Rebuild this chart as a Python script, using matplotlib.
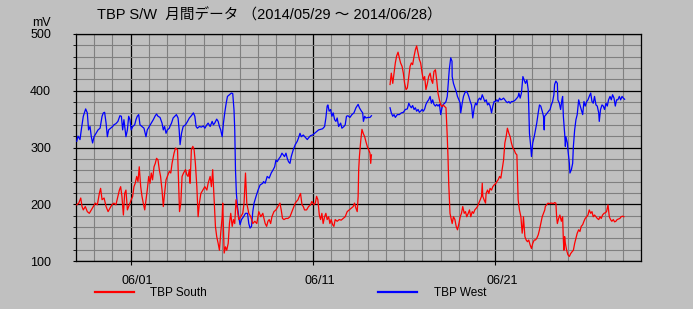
import numpy as np
import pandas as pd
import matplotlib
matplotlib.use("Agg")
import matplotlib.pyplot as plt
import matplotlib.dates as mdates
import matplotlib.transforms as mtransforms
from matplotlib.ticker import MultipleLocator

plt.rcParams['font.family'] = ['Liberation Sans', 'Noto Sans CJK JP']

start = pd.Timestamp("2014-05-29")

# time in days since 2014/05/29 00:00, values in mV (nan = no data)
south_days = [0.04, 0.15, 0.26, 0.33, 0.40, 0.51, 0.62, 0.73, 0.84, 0.95, 1.06, 1.17, 1.28, 1.35, 1.43,
              1.54, 1.65, 1.76, 1.86, 1.97, 2.08, 2.19, 2.30, 2.38, 2.45, 2.52, 2.60, 2.67, 2.74, 2.82,
              2.89, 2.96, 3.03, 3.11, 3.18, 3.25, 3.33, 3.40, 3.47, 3.55, 3.62, 3.69, 3.77, 3.84, 3.91,
              3.99, 4.06, 4.13, 4.20, 4.28, 4.35, 4.42, 4.50, 4.57, 4.64, 4.72, 4.79, 4.86, 4.94, 5.01,
              5.12, 5.20, 5.27, 5.38, 5.46, 5.57, 5.64, 5.68, 5.75, 5.82, 5.90, 6.01, 6.08, 6.15, 6.22,
              6.26, 6.33, 6.41, 6.48, 6.55, 6.63, 6.70, 6.77, 6.85, 6.96, 7.07, 7.18, 7.25, 7.36, 7.43,
              7.50, 7.58, 7.65, 7.72, 7.80, 7.87, 7.94, 8.02, 8.05, 8.13, 8.20, 8.27, 8.35, 8.42, 8.49,
              8.57, 8.64, 8.71, 8.78, 8.86, 8.93, 9.04, 9.15, 9.22, 9.30, 9.37, 9.48, 9.59, 9.70, 9.81,
              9.92, 10.03, 10.14, 10.25, 10.29, 10.38, 10.46, 10.53, 10.60, 10.68, 10.75, 10.86, 10.97,
              11.08, 11.19, 11.26, 11.33, 11.41, 11.52, 11.63, 11.74, 11.81, 11.92, 12.03, 12.10, 12.18,
              12.25, 12.32, 12.40, 12.47, 12.54, 12.65, 12.76, 12.87, 12.94, 13.05, 13.13, 13.20, 13.27,
              13.35, 13.42, 13.49, 13.56, 13.64, 13.71, 13.78, 13.86, 13.93, 14.00, 14.08, 14.15, 14.22,
              14.33, 14.44, 14.55, 14.66, 14.77, 14.88, 14.99, 15.10, 15.21, 15.28, 15.36, 15.43, 15.48,
              15.51, 15.55, 15.62, 15.69, 15.77, 15.84, 15.91, 15.99, 16.06, 16.13, 16.17, 16.21, 16.70,
              17.23, 17.30, 17.38, 17.45, 17.52, 17.59, 17.67, 17.74, 17.81, 17.89, 17.96, 18.03, 18.11,
              18.18, 18.26, 18.33, 18.40, 18.47, 18.55, 18.62, 18.69, 18.77, 18.84, 18.91, 18.99, 19.06,
              19.13, 19.20, 19.28, 19.35, 19.43, 19.50, 19.57, 19.64, 19.72, 19.79, 19.86, 19.94, 20.01,
              20.08, 20.15, 20.23, 20.30, 20.37, 20.41, 20.45, 20.48, 20.52, 20.59, 20.64, 20.71, 20.79,
              20.86, 20.93, 21.01, 21.08, 21.15, 21.22, 21.30, 21.37, 21.44, 21.52, 21.59, 21.66, 21.74,
              21.81, 21.88, 21.96, 22.03, 22.10, 22.18, 22.25, 22.29, 22.32, 22.39, 22.47, 22.50, 22.58,
              22.65, 22.72, 22.80, 22.87, 22.94, 23.02, 23.09, 23.16, 23.24, 23.31, 23.38, 23.46, 23.53,
              23.60, 23.67, 23.75, 23.82, 23.89, 23.97, 24.04, 24.11, 24.19, 24.22, 24.26, 24.33, 24.41,
              24.44, 24.48, 24.52, 24.55, 24.63, 24.70, 24.77, 24.84, 24.92, 24.99, 25.06, 25.14, 25.21,
              25.28, 25.36, 25.43, 25.50, 25.58, 25.65, 25.72, 25.75, 25.82, 25.90, 25.97, 26.04, 26.12,
              26.19, 26.26, 26.33, 26.37, 26.41, 26.48, 26.55, 26.63, 26.70, 26.74, 26.77, 26.81, 26.85,
              26.92, 26.99, 27.07, 27.14, 27.21, 27.29, 27.36, 27.43, 27.50, 27.58, 27.65, 27.72, 27.80,
              27.87, 27.94, 28.02, 28.09, 28.16, 28.24, 28.31, 28.38, 28.45, 28.53, 28.60, 28.68, 28.75,
              28.82, 28.89, 28.97, 29.04, 29.11, 29.19, 29.26, 29.33, 29.40, 29.48, 29.55, 29.62, 29.69,
              29.77, 29.84, 29.91, 29.99, 30.06]
south_mv = [199, 202, 211, 196, 190, 196, 187, 184, 190, 196, 202, 199, 219, 228, 208,
            211, 196, 187, 193, 199, 202, 199, 214, 225, 231, 214, 181, 219, 225, 190,
            196, 202, 208, 214, 231, 237, 249, 240, 266, 231, 214, 202, 190, 208, 225,
            249, 237, 255, 243, 266, 272, 281, 278, 261, 249, 225, 196, 219, 243, 249,
            258, 255, 272, 290, 299, 296, 225, 187, 202, 249, 255, 261, 252, 249, 261,
            237, 296, 302, 296, 272, 231, 178, 202, 219, 225, 231, 225, 237, 249, 231,
            261, 208, 161, 143, 131, 119, 149, 178, 202, 114, 125, 119, 131, 166, 184,
            161, 173, 166, 208, 190, 173, 178, 184, 202, 255, 202, 184, 178, 166, 170,
            166, 187, 178, 184, 178, 166, 161, 170, 173, 166, 178, 187, 190,
            196, 202, 190, 175, 173, 175, 175, 178, 184, 193, 202, 205, 208,
            214, 219, 199, 196, 190, 190, 196, 199, 205, 199, 202, 214, 208,
            181, 173, 184, 166, 178, 184, 173, 178, 166, 173, 164, 161, 173,
            170, 173, 172, 175, 178, 187, 190, 193, 196, 202, 193, 187, 214,
            261, 284, 311, 332, 324, 319, 310, 301, 296, 290, 272, 287, np.nan,
            411, 431, 413, 431, 449, 461, 468, 458, 449, 443, 431, 413, 402,
            405, 425, 443, 449, 446, 461, 472, 479, 466, 455, 449, 431, 419,
            425, 402, 413, 425, 431, 419, 413, 434, 437, 419, 396, 384, 375,
            372, 375, 372, 370, 319, 284, 237, 214, 184, 173, 166, 178, 173,
            161, 155, 166, 178, 184, 196, 184, 187, 178, 184, 190, 178, 187,
            184, 190, 193, 196, 202, 208, 214, 237, 214, 208, 202, 219, 225,
            219, 228, 225, 231, 234, 236, 240, 243, 249, 246, 261, 278, 308,
            319, 334, 325, 319, 308, 299, 296, 290, 287, 255, 208, 190, 178,
            166, 149, 161, 178, 143, 137, 134, 137, 128, 122, 131, 137, 137,
            140, 146, 155, 166, 178, 184, 190, 196, 199, 202, 201, 202, 202,
            201, 203, 202, 178, 166, 175, 181, 170, 178, 137, 119, 143, 131,
            119, 111, 108, 113, 116, 119, 131, 140, 149, 155, 152, 161, 164,
            170, 175, 178, 181, 190, 184, 187, 178, 181, 178, 175, 173, 178,
            175, 181, 184, 185, 187, 199, 178, 173, 170, 173, 169, 170, 173,
            174, 175, 178, 179, 178]

west_days = [0.04, 0.11, 0.22, 0.29, 0.40, 0.53, 0.62, 0.69, 0.77, 0.84, 0.91, 0.99, 1.10, 1.21, 1.32,
             1.43, 1.50, 1.57, 1.65, 1.72, 1.79, 1.90, 2.01, 2.08, 2.19, 2.30, 2.41, 2.49, 2.56, 2.63,
             2.74, 2.82, 2.89, 2.96, 3.03, 3.11, 3.22, 3.29, 3.36, 3.44, 3.51, 3.62, 3.73, 3.84, 3.91,
             4.02, 4.13, 4.24, 4.35, 4.42, 4.50, 4.61, 4.72, 4.79, 4.86, 4.94, 5.01, 5.12, 5.15, 5.24,
             5.33, 5.42, 5.51, 5.60, 5.66, 5.71, 5.79, 5.88, 6.01, 6.12, 6.22, 6.33, 6.44, 6.52, 6.59,
             6.66, 6.77, 6.88, 6.99, 7.07, 7.18, 7.25, 7.36, 7.47, 7.54, 7.61, 7.72, 7.80, 7.87, 7.94,
             8.02, 8.09, 8.16, 8.24, 8.31, 8.42, 8.53, 8.60, 8.67, 8.71, 8.75, 8.80, 8.86, 8.93, 9.00,
             9.08, 9.19, 9.30, 9.41, 9.48, 9.55, 9.63, 9.70, 9.77, 9.88, 9.99, 10.10, 10.25, 10.29,
             10.38, 10.49, 10.60, 10.71, 10.82, 10.90, 10.97, 11.04, 11.15, 11.22, 11.30, 11.37, 11.44,
             11.52, 11.59, 11.66, 11.74, 11.81, 11.92, 12.03, 12.14, 12.21, 12.29, 12.36, 12.47, 12.58,
             12.69, 12.76, 12.87, 12.98, 13.09, 13.20, 13.31, 13.42, 13.53, 13.64, 13.71, 13.78, 13.82,
             13.89, 13.97, 14.04, 14.11, 14.19, 14.26, 14.33, 14.41, 14.52, 14.59, 14.70, 14.77, 14.84,
             14.92, 15.03, 15.14, 15.25, 15.36, 15.48, 15.55, 15.66, 15.73, 15.77, 15.84, 15.91, 16.02,
             16.13, 16.21, 16.70,
             17.23, 17.30, 17.38, 17.45, 17.52, 17.63, 17.74, 17.85, 17.96, 18.07, 18.18, 18.26, 18.33,
             18.40, 18.47, 18.55, 18.62, 18.69, 18.77, 18.84, 18.91, 18.99, 19.06, 19.13, 19.20, 19.28,
             19.35, 19.43, 19.50, 19.57, 19.64, 19.72, 19.79, 19.86, 19.94, 20.01, 20.08, 20.15, 20.23,
             20.30, 20.37, 20.41, 20.48, 20.56, 20.63, 20.64, 20.71, 20.79, 20.86, 20.93, 21.01, 21.08,
             21.11, 21.19, 21.26, 21.33, 21.41, 21.48, 21.55, 21.63, 21.70, 21.77, 21.85, 21.92, 21.99,
             22.07, 22.14, 22.21, 22.29, 22.36, 22.43, 22.51, 22.58, 22.65, 22.72, 22.80, 22.87, 22.94,
             23.02, 23.09, 23.16, 23.24, 23.31, 23.38, 23.46, 23.53, 23.60, 23.67, 23.75, 23.82, 23.89,
             23.97, 24.04, 24.11, 24.19, 24.26, 24.30, 24.37, 24.44, 24.52, 24.59, 24.66, 24.74, 24.81,
             24.84, 24.88, 24.95, 24.99, 25.06, 25.14, 25.21, 25.28, 25.36, 25.43, 25.50, 25.58, 25.65,
             25.69, 25.71, 25.79, 25.86, 25.93, 26.01, 26.08, 26.15, 26.22, 26.26, 26.33, 26.41, 26.44,
             26.52, 26.59, 26.66, 26.70, 26.74, 26.77, 26.81, 26.85, 26.88, 26.96, 26.99, 27.07, 27.10,
             27.18, 27.25, 27.29, 27.36, 27.43, 27.50, 27.58, 27.65, 27.72, 27.80, 27.87, 27.94, 28.02,
             28.09, 28.16, 28.24, 28.31, 28.38, 28.45, 28.53, 28.60, 28.68, 28.71, 28.78, 28.86, 28.93,
             29.00, 29.08, 29.15, 29.22, 29.30, 29.37, 29.44, 29.52, 29.59, 29.66, 29.73, 29.81, 29.88,
             29.96, 30.03, 30.10]
west_mv = [311, 320, 314, 331, 355, 368, 361, 331, 337, 319, 308, 319, 325, 331, 334,
           355, 361, 362, 343, 319, 331, 334, 337, 340, 342, 346, 356, 355, 331, 349,
           319, 331, 355, 349, 331, 337, 340, 349, 355, 358, 340, 337, 334, 319, 331,
           337, 343, 349, 356, 359, 355, 353, 343, 331, 337, 325, 331, 334, 337, 343,
           352, 355, 358, 352, 331, 305, 325, 337, 340, 346, 352, 356, 361, 355, 337,
           334, 337, 336, 338, 334, 340, 343, 337, 346, 340, 343, 350, 346, 337, 331,
           319, 343, 361, 378, 390, 393, 396, 395, 366, 331, 261, 219, 196, 178, 164,
           173, 178, 184, 184, 166, 158, 161, 187, 202, 214, 225, 234, 237, 240,
           237, 249, 246, 255, 261, 266, 278, 275, 281, 284, 290, 287, 284,
           290, 281, 275, 272, 284, 296, 305, 311, 317, 325, 319, 322, 318,
           314, 317, 321, 322, 325, 328, 331, 332, 333, 337, 352, 373, 375,
           364, 367, 355, 361, 349, 346, 352, 337, 343, 334, 337, 340, 355,
           356, 353, 358, 361, 370, 376, 370, 364, 361, 346, 355, 352, 353,
           353, 356, np.nan,
           370, 361, 355, 358, 353, 358, 358, 361, 362, 367, 368, 378, 373,
           370, 374, 367, 370, 364, 367, 362, 364, 367, 364, 368, 376, 381,
           384, 390, 378, 384, 376, 373, 376, 373, 376, 358, 370, 376, 378,
           381, 390, 408, 437, 458, 452, 425, 413, 405, 399, 390, 384, 378,
           361, 378, 390, 396, 399, 396, 390, 381, 375, 352, 370, 378, 375,
           384, 387, 384, 393, 387, 381, 384, 375, 378, 373, 361, 373, 381,
           381, 384, 381, 387, 384, 385, 387, 384, 381, 379, 381, 378, 381,
           381, 382, 384, 387, 390, 396, 387, 396, 425, 419, 413, 419, 402,
           373, 325, 302, 284, 308, 319, 331, 343, 361, 375, 373, 364, 355,
           331, 355, 358, 361, 364, 367, 375, 381, 393, 411, 417, 413, 384,
           378, 367, 384, 390, 355, 343, 325, 302, 319, 308, 296, 272, 255,
           261, 272, 302, 331, 349, 358, 384, 375, 367, 358, 381, 373, 381,
           384, 390, 396, 381, 378, 390, 375, 373, 361, 346, 367, 375, 373,
           367, 378, 373, 384, 390, 384, 393, 387, 373, 384, 384, 390, 384,
           390, 387, 385]

south_t = start + pd.to_timedelta(south_days, unit="D")
west_t = start + pd.to_timedelta(west_days, unit="D")

bg = "#c0c0c0"
fig = plt.figure(figsize=(6.93, 3.09), dpi=100, facecolor=bg)
ax = fig.add_axes([76 / 693, 1 - 261 / 309, 565 / 693, 227 / 309], facecolor=bg)

ax.plot(west_t, west_mv, color="#0000ff", lw=0.9, label="TBP West", zorder=3)
ax.plot(south_t, south_mv, color="#ff0000", lw=0.9, label="TBP South", zorder=3)

ax.set_xlim(start, start + pd.Timedelta(days=31))
ax.set_ylim(100, 500)

ax.xaxis.set_major_locator(mdates.DayLocator(bymonthday=[1, 11, 21]))
ax.xaxis.set_major_formatter(mdates.DateFormatter("%m/%d"))
ax.xaxis.set_minor_locator(mdates.DayLocator())
ax.yaxis.set_major_locator(MultipleLocator(100))
ax.yaxis.set_minor_locator(MultipleLocator(20))

ax.grid(which="minor", color="#808080", lw=0.8)
ax.grid(which="major", color="black", lw=0.9)
ax.set_axisbelow(True)
for s in ax.spines.values():
    s.set_color("black")
    s.set_linewidth(0.9)

ax.tick_params(axis="x", which="major", length=3, width=0.8, pad=7, labelsize=9)
ax.tick_params(axis="x", which="minor", length=0)
ax.tick_params(axis="y", which="major", length=2, width=0.8, pad=16, labelsize=9)
ax.tick_params(axis="y", which="minor", length=2, width=0.6)

# labels sit a little right of their grid line
shift = mtransforms.ScaledTranslation(7 / 100, 0, fig.dpi_scale_trans)
for lab in ax.get_xticklabels():
    lab.set_transform(lab.get_transform() + shift)

fig.text(97 / 693, 1 - 19.5 / 309, "TBP S/W  月間データ （2014/05/29 ～ 2014/06/28）",
         fontsize=10.5, ha="left", va="baseline")
fig.text(32 / 693, 1 - 23 / 309, "mV", fontsize=9, ha="left", va="center")

# legend order: South first, as in the original
handles, labels = ax.get_legend_handles_labels()
leg = fig.legend(handles[::-1], labels[::-1], loc="center left",
                 bbox_to_anchor=(95 / 693, 1 - 293 / 309), ncol=2,
                 frameon=False, fontsize=8.5, borderpad=0, borderaxespad=0,
                 handlelength=3.3, handletextpad=1.4, columnspacing=14.5)
for h in leg.legend_handles:
    h.set_linewidth(1.6)

fig.savefig("out.png", dpi=100, facecolor=bg)
